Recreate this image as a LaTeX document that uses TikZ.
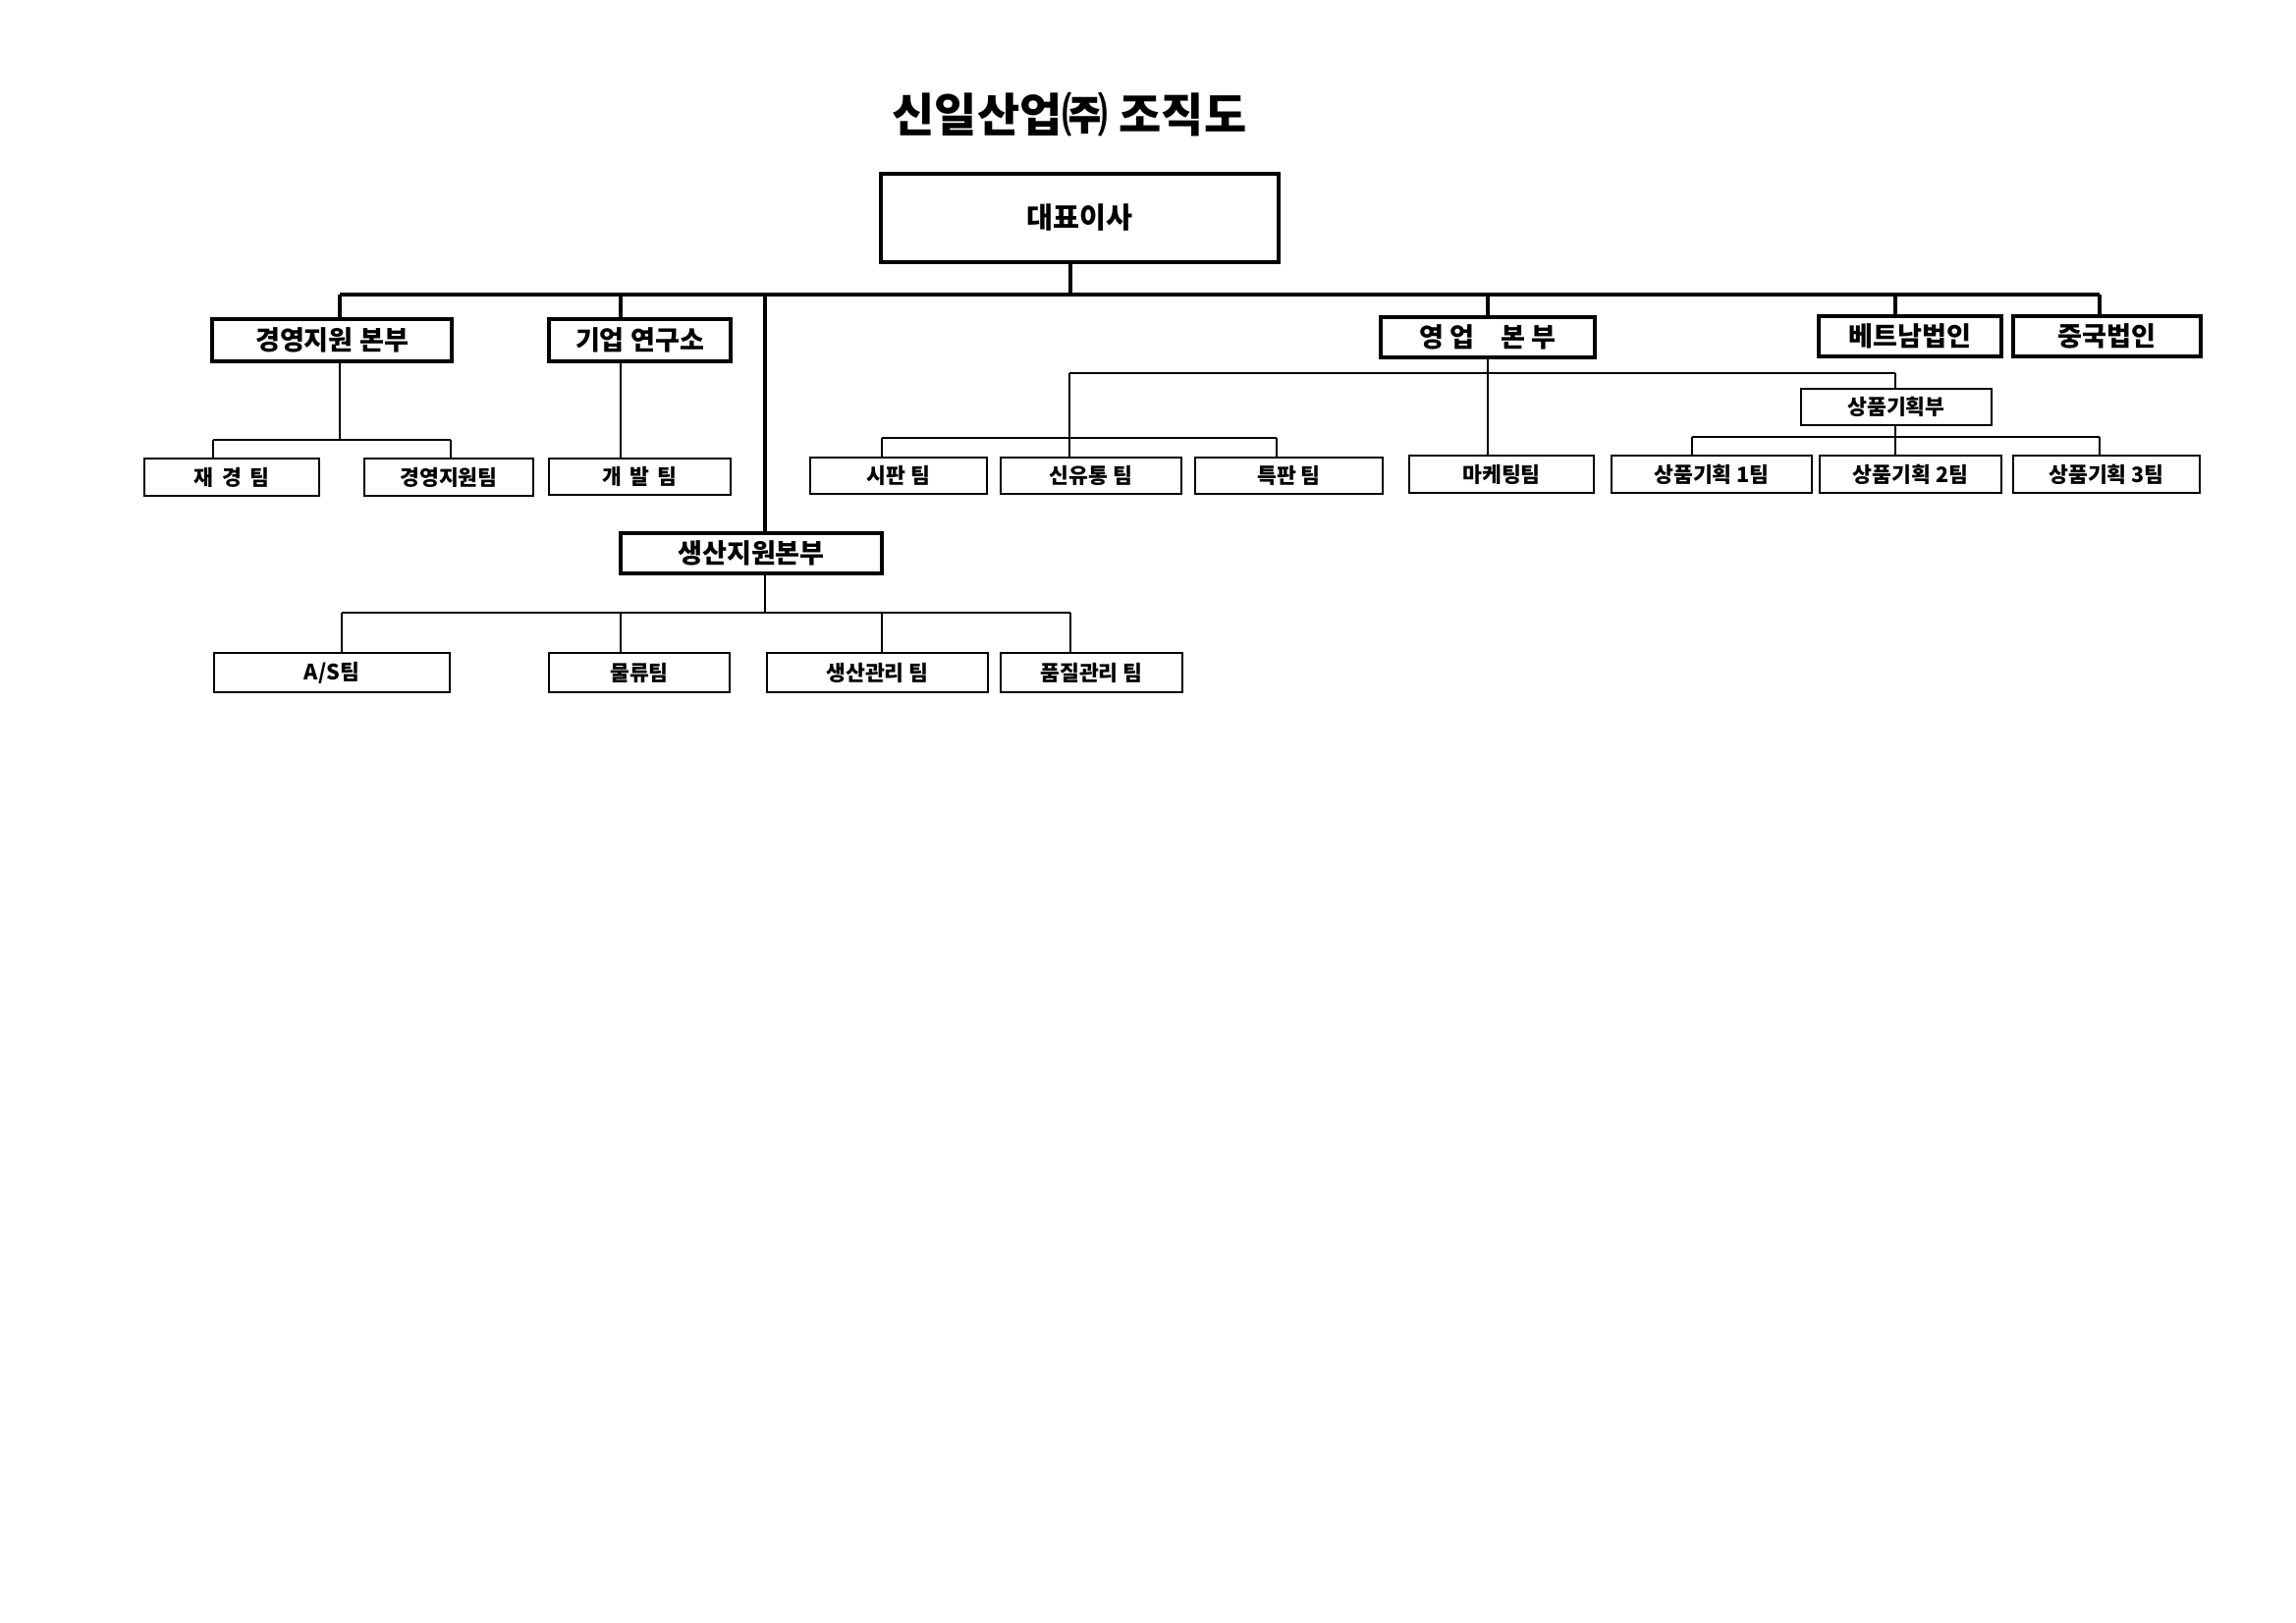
\documentclass[tikz,border=0pt]{standalone}
\usepackage{fontspec}
\setmainfont{Noto Sans CJK KR}
\def\px{0.12703mm}
\newcommand\orgbox[7]{\node[#7, minimum width={(#4-#2)*\px}, minimum height={(#5-#3)*\px}] (#1) at ({(#2+#4)/2},{(#3+#5)/2}) {#6};}
\tikzset{
  lvlone/.style={draw, line width=1.4pt, inner sep=0pt, font=\bfseries\fontsize{9.8}{11}\selectfont},
  ceobox/.style={draw, line width=1.4pt, inner sep=0pt, font=\bfseries\fontsize{10.6}{12}\selectfont},
  teambox/.style={draw, line width=0.75pt, inner sep=0pt, font=\bfseries\fontsize{7.8}{9}\selectfont},
  bus/.style={line width=1.2pt},
  thinline/.style={line width=0.75pt},
  titletext/.style={font=\bfseries\fontsize{17}{20}\selectfont}
}
\begin{document}
\begin{tikzpicture}[x=0.12703mm, y=-0.12703mm]
\fill[white] (0,0) rectangle (2338,1653);
\useasboundingbox (0,0) rectangle (2338,1653);

\node[titletext] (title) at (1089,117) {신일산업㈜ 조직도};

\orgbox{ceo}{897}{177}{1302}{267}{대표이사}{ceobox}
\orgbox{mgmt}{216}{325}{460}{368}{경영지원 본부}{lvlone}
\orgbox{lab}{559}{325}{744}{368}{기업 연구소}{lvlone}
\orgbox{sales}{1406}{323}{1624}{364}{영 업\hspace{1em}본 부}{lvlone}
\orgbox{vn}{1852}{322}{2038}{363}{베트남법인}{lvlone}
\orgbox{cn}{2050}{322}{2241}{363}{중국법인}{lvlone}
\orgbox{prod}{632}{543}{898}{584}{생산지원본부}{lvlone}
\orgbox{plan}{1834}{396}{2028}{433}{상품기획부}{teambox}

\orgbox{fin}{147}{467}{325}{505}{재\, 경\, 팀}{teambox}
\orgbox{ms}{371}{467}{543}{505}{경영지원팀}{teambox}
\orgbox{dev}{559}{467}{744}{504}{개\, 발\, 팀}{teambox}
\orgbox{s1}{825}{466}{1005}{503}{시판 팀}{teambox}
\orgbox{s2}{1019}{466}{1203}{503}{신유통 팀}{teambox}
\orgbox{s3}{1217}{466}{1408}{503}{특판 팀}{teambox}
\orgbox{mk}{1435}{464}{1623}{502}{마케팅팀}{teambox}
\orgbox{p1}{1641}{464}{1845}{502}{상품기획 1팀}{teambox}
\orgbox{p2}{1853}{464}{2038}{502}{상품기획 2팀}{teambox}
\orgbox{p3}{2050}{464}{2240}{502}{상품기획 3팀}{teambox}
\orgbox{as}{218}{665}{458}{705}{A/S팀}{teambox}
\orgbox{lg}{559}{665}{743}{705}{물류팀}{teambox}
\orgbox{pm}{781}{665}{1006}{705}{생산관리 팀}{teambox}
\orgbox{qm}{1019}{665}{1204}{705}{품질관리 팀}{teambox}

% main bus
\coordinate (sMg) at (346,300);
\coordinate (sLab) at (632,300);
\coordinate (sProd) at (779,300);
\coordinate (sCeo) at (1090,300);
\coordinate (sSales) at (1515,300);
\coordinate (sVn) at (1930,300);
\coordinate (sCn) at (2138,300);
\draw[bus] (sMg) -- (sCn);
\draw[bus] (ceo.south -| sCeo) -- (sCeo);
\foreach \s/\n in {sMg/mgmt, sLab/lab, sProd/prod, sSales/sales, sVn/vn, sCn/cn}
  \draw[bus] (\s) -- (\s |- \n.north);

% sales division
\coordinate (ssL) at (1089,380);
\coordinate (ssR) at (1930,380);
\draw[thinline] (ssL) -- (ssR);
\draw[thinline] (sales.south -| sSales) -- (sSales |- mk.north);
\draw[thinline] (ssL) -- (ssL |- s2.north);
\draw[thinline] (ssR) -- (ssR |- plan.north);
\coordinate (stL) at (898,446);
\coordinate (stR) at (1300,446);
\draw[thinline] (stL) -- (stR);
\draw[thinline] (stL) -- (stL |- s1.north);
\draw[thinline] (stR) -- (stR |- s3.north);

% planning
\coordinate (pL) at (1723,445);
\coordinate (pM) at (1930,445);
\coordinate (pR) at (2138,445);
\draw[thinline] (pL) -- (pR);
\draw[thinline] (plan.south -| pM) -- (pM |- p2.north);
\draw[thinline] (pL) -- (pL |- p1.north);
\draw[thinline] (pR) -- (pR |- p3.north);

% management
\coordinate (mL) at (217,448);
\coordinate (mM) at (346,448);
\coordinate (mR) at (459,448);
\draw[thinline] (mgmt.south -| mM) -- (mM);
\draw[thinline] (mL) -- (mR);
\draw[thinline] (mL) -- (mL |- fin.north);
\draw[thinline] (mR) -- (mR |- ms.north);

% lab
\draw[thinline] (lab.south -| sLab) -- (sLab |- dev.north);

% production
\coordinate (pdL) at (348,624);
\coordinate (pd2) at (632,624);
\coordinate (pdM) at (779,624);
\coordinate (pd3) at (898,624);
\coordinate (pdR) at (1090,624);
\draw[thinline] (prod.south -| pdM) -- (pdM);
\draw[thinline] (pdL) -- (pdR);
\draw[thinline] (pdL) -- (pdL |- as.north);
\draw[thinline] (pd2) -- (pd2 |- lg.north);
\draw[thinline] (pd3) -- (pd3 |- pm.north);
\draw[thinline] (pdR) -- (pdR |- qm.north);
\end{tikzpicture}
\end{document}
